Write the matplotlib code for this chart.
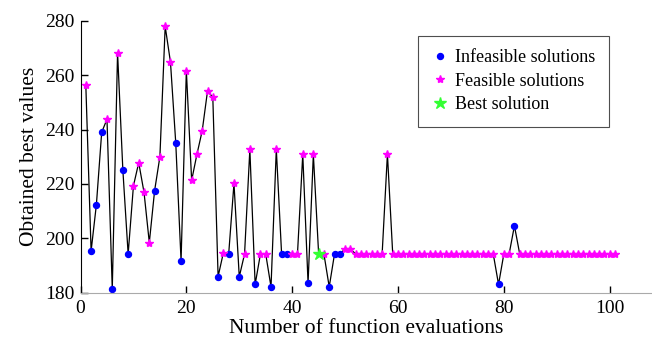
import numpy as np
import matplotlib.pyplot as plt

plt.rcParams['font.family'] = ['Liberation Serif', 'DejaVu Serif']

# obtained best value at each function evaluation (1..101)
values = [256.4, 195.3, 212.4, 239.0, 243.8, 181.3, 268.3, 225.1, 194.2, 219.3,
          227.8, 216.9, 198.4, 217.5, 230.0, 278.0, 264.8, 235.0, 191.7, 261.7,
          221.3, 230.9, 239.6, 254.2, 251.9, 185.9, 194.7, 194.2, 220.2, 185.8,
          194.2, 232.7, 183.0, 194.2, 194.2, 182.1, 232.8, 194.2, 194.2, 194.2,
          194.2, 230.9, 183.5, 230.9, 194.2, 194.2, 182.1, 194.2, 194.2, 196.1,
          196.1, 194.2, 194.2, 194.2, 194.2, 194.2, 194.2, 231.0] + [194.2] * 20 + \
         [183.0, 194.2, 194.2, 204.6] + [194.2] * 19

# evaluations that gave infeasible solutions
infeasible = [2, 3, 4, 6, 8, 9, 14, 18, 19, 26, 28, 30, 33, 36, 38, 39, 43,
              47, 48, 49, 79, 82]
best_eval = 45

evals = np.arange(1, len(values) + 1)
values = np.array(values)
is_inf = np.isin(evals, infeasible)
is_feas = ~is_inf & (evals != best_eval)

fig = plt.figure(figsize=(6.52, 3.43), dpi=100)
ax = fig.add_axes([0.1235, 0.147, 0.8765, 0.792])

ax.plot(evals, values, color='black', linewidth=0.9, zorder=1)
ax.plot(evals[is_inf], values[is_inf], 'o', color='#0000ff', markersize=4.3,
        linestyle='none', label='Infeasible solutions', zorder=2)
ax.plot(evals[is_feas], values[is_feas], '*', color='#ff00ff', markersize=6,
        linestyle='none', label='Feasible solutions', zorder=2)
ax.plot([best_eval], [values[best_eval - 1]], '*', color='#33ff33', markersize=9,
        linestyle='none', label='Best solution', zorder=3)

ax.set_xlim(0, 108)
ax.set_ylim(180, 280)
ax.set_xticks([0, 20, 40, 60, 80, 100])
ax.set_yticks([180, 200, 220, 240, 260, 280])
ax.tick_params(direction='in', length=5, width=1, labelsize=14)
ax.tick_params(axis='x', pad=5)
ax.tick_params(axis='y', pad=4)

ax.spines['top'].set_visible(False)
ax.spines['right'].set_visible(False)
ax.spines['bottom'].set_color('#aaaaaa')
ax.spines['left'].set_color('black')

ax.set_xlabel('Number of function evaluations', fontsize=15.5, labelpad=2)
ax.set_ylabel('Obtained best values', fontsize=15.5, labelpad=5)

leg = ax.legend(loc='upper left', bbox_to_anchor=(0.5906, 0.945), fontsize=13,
                frameon=True, fancybox=False, edgecolor='#222222',
                handletextpad=0.4, borderpad=0.75, labelspacing=0.35,
                handlelength=0.9, borderaxespad=0)
leg.get_frame().set_linewidth(0.8)

fig.savefig('out.png', dpi=100)
